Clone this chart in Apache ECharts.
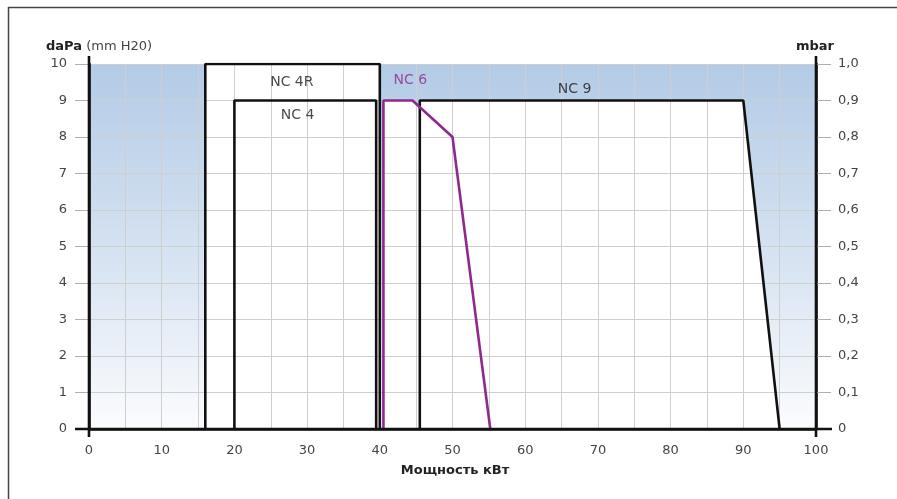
<!DOCTYPE html>
<html>
<head>
<meta charset="utf-8">
<script src="https://cdn.jsdelivr.net/npm/echarts@6/dist/echarts.min.js"></script>
<style>html,body{margin:0;padding:0;background:#fff}#c{width:897px;height:499px}</style>
</head>
<body>
<div id="c"></div>
<script>
// ---- data ----
var xTicks = [0, 10, 20, 30, 40, 50, 60, 70, 80, 90, 100];
var yTicks = [0, 1, 2, 3, 4, 5, 6, 7, 8, 9, 10];
var mbarLabels = ['0', '0,1', '0,2', '0,3', '0,4', '0,5', '0,6', '0,7', '0,8', '0,9', '1,0'];
var nc4r = [[16, 0], [16, 10], [40, 10], [40, 0]];
var nc4 = [[20, 0], [20, 9], [39.5, 9], [39.5, 0]];
var nc6 = [[40.5, 0], [40.5, 9], [44.5, 9], [50, 8], [55.2, 0]];
var nc9 = [[45.5, 0], [45.5, 9], [90, 9], [95, 0]];
var labelNames = ['NC 4R', 'NC 4', 'NC 6', 'NC 9'];
var labelPos = [[27.9, 9.5], [28.7, 8.6], [44.2, 9.55], [66.8, 9.3]];
var xTitle = 'Мощность кВт';
var yTitleBold = 'daPa';
var yTitleRest = ' (mm H20)';
var y2Title = 'mbar';

var FONT = 'DejaVu Sans';
var PURPLE = '#8e2a8e';

var chart = echarts.init(document.getElementById('c'));

function fill(data) {
  return {type: 'line', data: data, xAxisIndex: 0, yAxisIndex: 0, z: 1, symbol: 'none',
    lineStyle: {width: 0, opacity: 0}, areaStyle: {color: '#ffffff', opacity: 1}, silent: true};
}
function outline(data, color) {
  return {type: 'line', data: data, xAxisIndex: 0, yAxisIndex: 0, z: 5, symbol: 'none',
    lineStyle: {width: 2.6, color: color}, silent: true};
}

var labelData = labelNames.map(function (n, i) {
  return {name: n, value: labelPos[i],
    label: {color: n === 'NC 6' ? PURPLE : '#1a1a1a'}};
});

chart.setOption({
  animation: false,
  textStyle: {fontFamily: FONT},
  grid: {left: 89, right: 81, top: 64, bottom: 70, show: true, borderWidth: 0,
    backgroundColor: new echarts.graphic.LinearGradient(0, 0, 0, 1, [
      {offset: 0, color: '#b3cbe6'},
      {offset: 0.55, color: '#d8e4f2'},
      {offset: 1, color: '#fbfcfe'}
    ])},
  xAxis: [
    {type: 'value', min: xTicks[0], max: xTicks[xTicks.length - 1], interval: 10, z: 6,
      axisLine: {show: true, onZero: false, lineStyle: {color: '#111', width: 2.6}},
      axisTick: {show: false},
      axisLabel: {color: '#444', fontSize: 13, margin: 15, fontFamily: FONT},
      splitLine: {show: false}},
    {type: 'value', min: 0, max: 100, interval: 5, z: 3, position: 'bottom',
      axisLine: {show: false}, axisTick: {show: false}, axisLabel: {show: false},
      splitLine: {show: true, lineStyle: {color: '#cfcfcf', width: 1}}}
  ],
  yAxis: [
    {type: 'value', min: yTicks[0], max: yTicks[yTicks.length - 1], interval: 1, position: 'left', z: 6,
      axisLine: {show: true, onZero: false, lineStyle: {color: '#111', width: 2.6}},
      axisTick: {show: true, length: 14, lineStyle: {color: '#b0b0b0', width: 1}},
      axisLabel: {color: '#444', fontSize: 13, margin: 22, fontFamily: FONT},
      splitLine: {show: false}},
    {type: 'value', min: 0, max: 10, interval: 1, position: 'right', z: 6,
      axisLine: {show: true, onZero: false, lineStyle: {color: '#111', width: 2.6}},
      axisTick: {show: true, length: 15, lineStyle: {color: '#b0b0b0', width: 1}},
      axisLabel: {color: '#444', fontSize: 13, margin: 22, fontFamily: FONT,
        formatter: function (v) { return mbarLabels[Math.round(v)]; }},
      splitLine: {show: false}},
    {type: 'value', min: 0, max: 10, interval: 1, position: 'left', z: 3,
      axisLine: {show: false}, axisTick: {show: false}, axisLabel: {show: false},
      splitLine: {show: true, lineStyle: {color: '#cfcfcf', width: 1}}}
  ],
  series: [
    fill(nc4r), fill(nc6), fill(nc9),
    outline(nc4r, '#111'), outline(nc4, '#111'), outline(nc9, '#111'), outline(nc6, PURPLE),
    {type: 'scatter', data: labelData, symbolSize: 1, z: 7, silent: true,
      itemStyle: {color: 'rgba(0,0,0,0)'},
      label: {show: true, position: 'inside', formatter: '{b}', fontSize: 14, fontFamily: FONT}}
  ]
});

// axis-line overshoots, computed from the chart's own scales
var p00 = chart.convertToPixel({xAxisIndex: 0, yAxisIndex: 0}, [xTicks[0], yTicks[0]]);
var p11 = chart.convertToPixel({xAxisIndex: 0, yAxisIndex: 0}, [xTicks[xTicks.length - 1], yTicks[yTicks.length - 1]]);
var axisStyle = {stroke: '#111', lineWidth: 2.6};
chart.setOption({
  graphic: [
    {type: 'line', shape: {x1: p00[0], y1: p11[1] - 8, x2: p00[0], y2: p00[1] + 8}, z: 50, silent: true, style: axisStyle},
    {type: 'line', shape: {x1: p11[0], y1: p11[1] - 8, x2: p11[0], y2: p00[1] + 8}, z: 50, silent: true, style: axisStyle},
    {type: 'line', shape: {x1: p00[0] - 14, y1: p00[1], x2: p11[0] + 16, y2: p00[1]}, z: 50, silent: true, style: axisStyle},
    {type: 'line', shape: {x1: 8, y1: 7.5, x2: 897, y2: 7.5}, z: 100, silent: true,
      style: {stroke: '#444', lineWidth: 1.5}},
    {type: 'line', shape: {x1: 8.5, y1: 7, x2: 8.5, y2: 499}, z: 100, silent: true,
      style: {stroke: '#444', lineWidth: 1.5}},
    {type: 'rect', shape: {x: 858, y: 40, width: 40, height: 420}, z: 99, silent: true,
      style: {fill: '#ffffff'}},
    {type: 'text', x: 46, y: 40, z: 100, style: {
      text: '{b|' + yTitleBold + '}{n|' + yTitleRest + '}',
      rich: {b: {fontFamily: FONT, fontSize: 13, fontWeight: 'bold', fill: '#222'},
             n: {fontFamily: FONT, fontSize: 13, fill: '#444'}}}},
    {type: 'text', x: 834, y: 40, z: 100, style: {
      text: y2Title, font: 'bold 13px "DejaVu Sans"', fill: '#222', textAlign: 'right'}},
    {type: 'text', x: 455, y: 464, z: 100, style: {
      text: xTitle, font: 'bold 13px "DejaVu Sans"', fill: '#222', textAlign: 'center'}}
  ]
});
</script>
</body>
</html>
